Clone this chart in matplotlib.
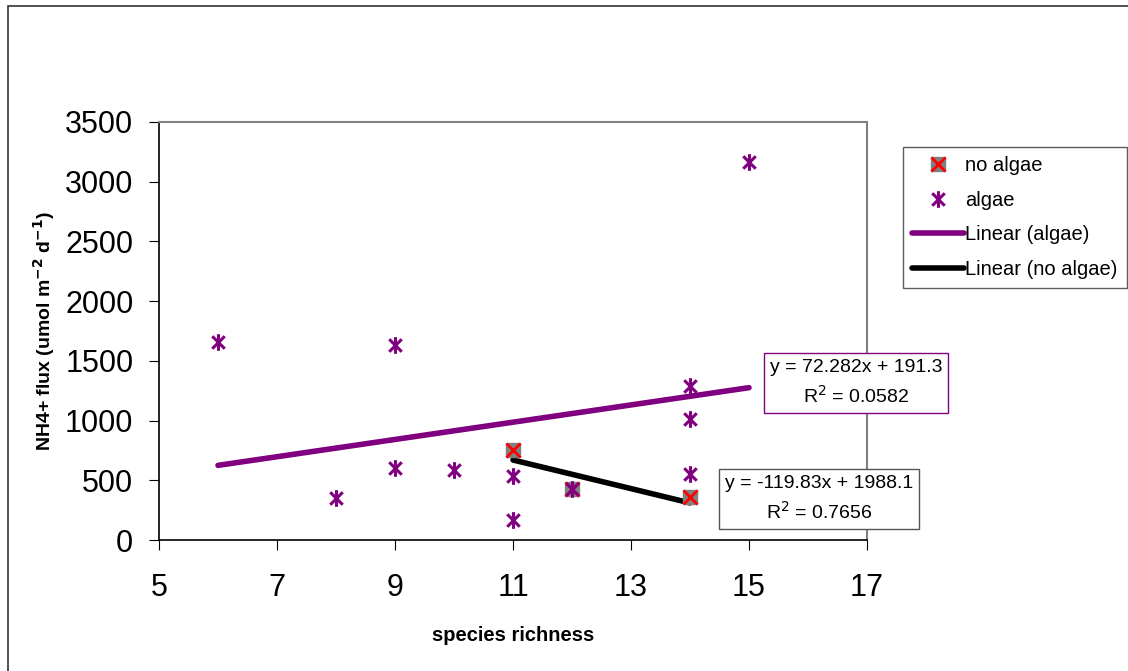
import matplotlib.pyplot as plt
import numpy as np
from matplotlib.path import Path
from matplotlib.patches import Rectangle
from matplotlib.legend_handler import HandlerTuple

plt.rcParams['font.family'] = ['Liberation Sans', 'DejaVu Sans']

# algae treatment
algae_x = [6, 8, 9, 9, 10, 11, 11, 12, 14, 14, 14, 15]
algae_y = [1660, 350, 1630, 600, 590, 540, 165, 430, 1290, 1015, 555, 3165]

# no algae treatment
noalgae_x = [11, 12, 14]
noalgae_y = [750, 430, 360]

# trendline coefficients as printed on the chart
algae_fit = [72.282, 191.3]
noalgae_fit = [-119.83, 1988.1]
algae_eq = "y = 72.282x + 191.3\nR$^2$ = 0.0582"
noalgae_eq = "y = -119.83x + 1988.1\nR$^2$ = 0.7656"

purple = '#800080'

# excel style star marker: X with a vertical bar
star = Path([(0, -1), (0, 1), (-0.75, -0.75), (0.75, 0.75), (-0.75, 0.75), (0.75, -0.75)],
            [Path.MOVETO, Path.LINETO, Path.MOVETO, Path.LINETO, Path.MOVETO, Path.LINETO])

fig = plt.figure(figsize=(11.28, 6.71), dpi=100)
ax = fig.add_axes([159 / 1128, 1 - 540 / 671, 708 / 1128, 418 / 671])

# outer chart border
fig.patches.append(Rectangle((8 / 1128, -0.1), 1.2, (671 - 6) / 671 + 0.1,
                             transform=fig.transFigure, fill=False,
                             edgecolor='#333333', linewidth=1.2))

# no algae: gray square with red x
sq, = ax.plot(noalgae_x, noalgae_y, 's', color='#808080', markersize=10,
              linestyle='none', zorder=3)
rx, = ax.plot(noalgae_x, noalgae_y, 'x', color='red', markersize=10,
              markeredgewidth=2, linestyle='none', zorder=4)

st, = ax.plot(algae_x, algae_y, linestyle='none', marker=star, markersize=12,
              markeredgecolor=purple, markerfacecolor='none', markeredgewidth=2.2,
              zorder=5)

xa = np.array([min(algae_x), max(algae_x)])
la, = ax.plot(xa, np.polyval(algae_fit, xa), color=purple, linewidth=4,
              solid_capstyle='round', zorder=2)
xn = np.array([min(noalgae_x), max(noalgae_x)])
ln, = ax.plot(xn, np.polyval(noalgae_fit, xn), color='black', linewidth=4,
              solid_capstyle='round', zorder=2)

ax.set_xlim(5, 17)
ax.set_ylim(0, 3500)
ax.set_xticks(range(5, 18, 2))
ax.set_yticks(range(0, 3501, 500))
ax.tick_params(direction='out', length=7, labelsize=22)
ax.tick_params(axis='y', pad=11.5)
ax.tick_params(axis='x', pad=17)
ax.spines['top'].set_color('#808080')
ax.spines['right'].set_color('#808080')
for s in ['top', 'right']:
    ax.spines[s].set_linewidth(1.5)
for s in ['left', 'bottom']:
    ax.spines[s].set_linewidth(1.2)

ax.set_xlabel('species richness', fontsize=14.5, fontweight='bold', labelpad=16)
ax.set_ylabel('NH4+ flux (umol m$^{\\mathbf{-2}}$ d$^{\\mathbf{-1}}$)', fontsize=14,
              fontweight='bold', labelpad=6)

leg = fig.legend([(sq, rx), st, la, ln],
                 ['no algae', 'algae', 'Linear (algae)', 'Linear (no algae)'],
                 handler_map={tuple: HandlerTuple(ndivide=1)},
                 loc='upper left', bbox_to_anchor=(903 / 1128, 1 - 147 / 671),
                 frameon=True, fancybox=False, fontsize=14.5, handlelength=2.6,
                 handletextpad=0.05, borderpad=0.45, labelspacing=0.78,
                 borderaxespad=0)
leg.get_frame().set_edgecolor('#333333')
leg.get_frame().set_linewidth(1.0)

ax.text(856 / 1128, 1 - 383 / 671, algae_eq, transform=fig.transFigure,
        ha='center', va='center', fontsize=14, multialignment='center',
        linespacing=1.5,
        bbox=dict(boxstyle='square,pad=0.3', facecolor='white', edgecolor=purple),
        zorder=6, clip_on=False)
ax.text(819 / 1128, 1 - 499 / 671, noalgae_eq, transform=fig.transFigure,
        ha='center', va='center', fontsize=14, multialignment='center',
        linespacing=1.5,
        bbox=dict(boxstyle='square,pad=0.3', facecolor='white', edgecolor='#555555'),
        zorder=6, clip_on=False)

fig.savefig('out.png', dpi=100)
